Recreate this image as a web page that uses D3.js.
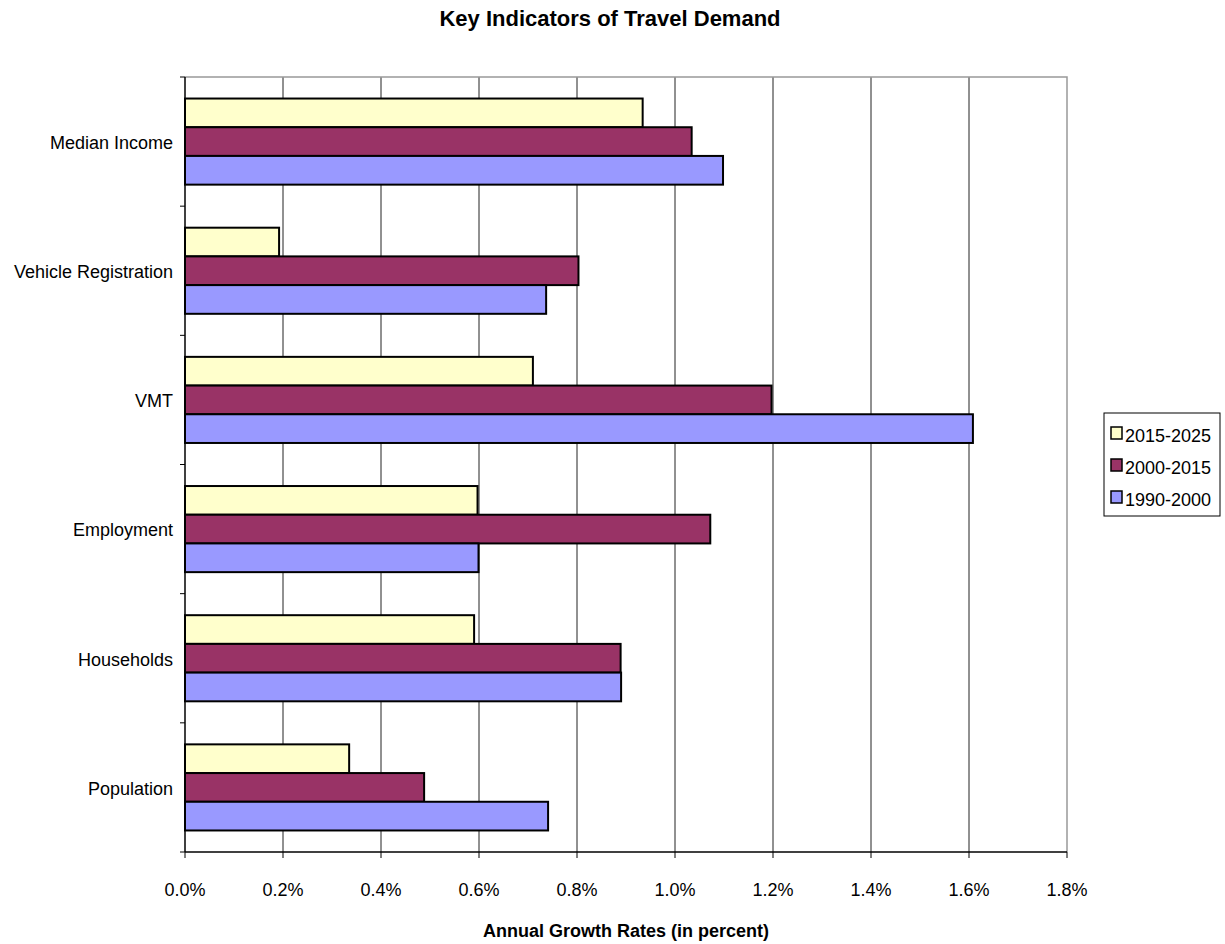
<!DOCTYPE html>
<html lang="en">
<head>
<meta charset="UTF-8">
<title>Key Indicators of Travel Demand</title>
<style>
    body { margin: 0; background: #fff; }
    svg text { font-family: "Liberation Sans", Arial, sans-serif; fill: #000; }
    .title { font-size: 22px; font-weight: bold; }
    .axis-title { font-size: 18px; font-weight: bold; }
    .tick-label { font-size: 18px; }
    .cat-label { font-size: 18px; }
    .legend text { font-size: 18px; }
    .grid line { stroke: #222; stroke-width: 1px; }
    .bar { stroke: #000; stroke-width: 2px; }
</style>
<script src="https://d3js.org/d3.v7.min.js"></script>
</head>
<body>
<div id="chart"></div>
<script>
    // data (annual growth, percent)
    const categories = ["Median Income", "Vehicle Registration", "VMT", "Employment", "Households", "Population"];
    const seriesNames = ["2015-2025", "2000-2015", "1990-2000"];
    const s2015 = [0.934, 0.192, 0.71, 0.597, 0.59, 0.335];
    const s2000 = [1.034, 0.803, 1.197, 1.072, 0.889, 0.488];
    const s1990 = [1.098, 0.737, 1.608, 0.599, 0.89, 0.741];
    const xTicks = [0, 0.2, 0.4, 0.6, 0.8, 1.0, 1.2, 1.4, 1.6, 1.8];
    const colors = ["#FFFFCC", "#993366", "#9999FF"];

    const width = 1225, height = 944;
    const plot = { left: 185, right: 1067, top: 77, bottom: 852 };

    const svg = d3.select("#chart").append("svg")
        .attr("width", width)
        .attr("height", height);

    const x = d3.scaleLinear().domain([0, 1.8]).range([plot.left, plot.right]);
    const y = d3.scaleBand().domain(categories).range([plot.top, plot.bottom]).padding(0);
    const inner = d3.scaleBand().domain(seriesNames).range([0, y.bandwidth()])
        .paddingInner(0).paddingOuter(0.75);

    // title
    svg.append("text").attr("class", "title")
        .attr("x", 610).attr("y", 26)
        .attr("text-anchor", "middle")
        .text("Key Indicators of Travel Demand");

    // gridlines
    svg.append("g").attr("class", "grid")
        .selectAll("line")
        .data(xTicks.slice(1, -1))
        .join("line")
        .attr("x1", d => x(d)).attr("x2", d => x(d))
        .attr("y1", plot.top).attr("y2", plot.bottom);

    // plot border (top / right in grey)
    svg.append("path")
        .attr("d", `M${plot.left},${plot.top}H${plot.right}V${plot.bottom}`)
        .attr("fill", "none").attr("stroke", "#999").attr("stroke-width", 1.5);

    // bars
    const series = [s2015, s2000, s1990];
    const rows = [];
    categories.forEach((c, i) => {
        seriesNames.forEach((s, j) => rows.push({ cat: c, name: s, value: series[j][i], color: colors[j] }));
    });

    svg.append("g").selectAll("rect")
        .data(rows)
        .join("rect")
        .attr("class", "bar")
        .attr("x", x(0))
        .attr("y", d => y(d.cat) + inner(d.name))
        .attr("width", d => x(d.value) - x(0))
        .attr("height", inner.bandwidth())
        .attr("fill", d => d.color);

    // x axis
    const xAxis = svg.append("g").attr("transform", `translate(0,${plot.bottom})`);
    xAxis.append("line")
        .attr("x1", plot.left).attr("x2", plot.right)
        .attr("stroke", "#000").attr("stroke-width", 1.5);
    xAxis.selectAll(".tk").data(xTicks).join("line")
        .attr("x1", d => x(d)).attr("x2", d => x(d))
        .attr("y1", 0).attr("y2", 6)
        .attr("stroke", "#000");
    xAxis.selectAll(".tick-label").data(xTicks).join("text")
        .attr("class", "tick-label")
        .attr("x", d => x(d)).attr("y", 44)
        .attr("text-anchor", "middle")
        .text(d => d.toFixed(1) + "%");

    svg.append("text").attr("class", "axis-title")
        .attr("x", (plot.left + plot.right) / 2).attr("y", 937)
        .attr("text-anchor", "middle")
        .text("Annual Growth Rates (in percent)");

    // y axis
    const yAxis = svg.append("g");
    yAxis.append("line")
        .attr("x1", plot.left).attr("x2", plot.left)
        .attr("y1", plot.top).attr("y2", plot.bottom)
        .attr("stroke", "#000").attr("stroke-width", 1.5);
    const yTicks = categories.map(c => y(c)).concat([plot.bottom]);
    yAxis.selectAll(".tk").data(yTicks).join("line")
        .attr("x1", plot.left - 5).attr("x2", plot.left)
        .attr("y1", d => d).attr("y2", d => d)
        .attr("stroke", "#000");
    yAxis.selectAll(".cat-label").data(categories).join("text")
        .attr("class", "cat-label")
        .attr("x", 173)
        .attr("y", d => y(d) + y.bandwidth() / 2 + 1)
        .attr("dy", "0.35em")
        .attr("text-anchor", "end")
        .text(d => d);

    // legend
    const legend = svg.append("g").attr("class", "legend");
    legend.append("rect")
        .attr("x", 1104).attr("y", 413).attr("width", 116).attr("height", 103)
        .attr("fill", "#fff").attr("stroke", "#000");
    const li = legend.selectAll(".item").data(seriesNames).join("g")
        .attr("transform", (d, i) => `translate(1111,${427 + i * 32})`);
    li.append("rect")
        .attr("width", 11).attr("height", 12)
        .attr("fill", (d, i) => colors[i])
        .attr("stroke", "#000").attr("stroke-width", 1.5);
    li.append("text")
        .attr("x", 14).attr("y", 15)
        .text(d => d);
</script>
</body>
</html>
